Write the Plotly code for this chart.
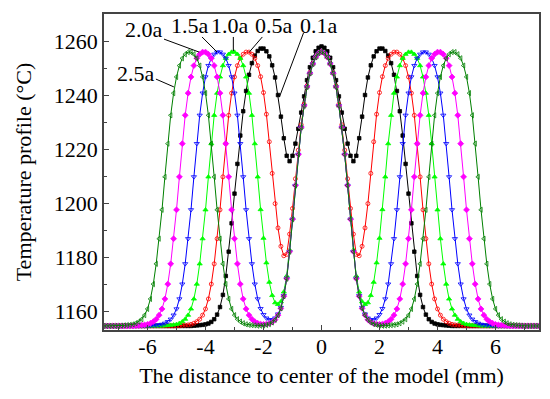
import plotly.graph_objects as go

x_mm = [
    -7.5, -7.4, -7.3, -7.2, -7.1, -7.0, -6.9, -6.8, -6.7, -6.6,
    -6.5, -6.4, -6.3, -6.2, -6.1, -6.0, -5.9, -5.8, -5.7, -5.6,
    -5.5, -5.4, -5.3, -5.2, -5.1, -5.0, -4.9, -4.8, -4.7, -4.6,
    -4.5, -4.4, -4.3, -4.2, -4.1, -4.0, -3.9, -3.8, -3.7, -3.6,
    -3.5, -3.4, -3.3, -3.2, -3.1, -3.0, -2.9, -2.8, -2.7, -2.6,
    -2.5, -2.4, -2.3, -2.2, -2.1, -2.0, -1.9, -1.8, -1.7, -1.6,
    -1.5, -1.4, -1.3, -1.2, -1.1, -1.0, -0.9, -0.8, -0.7, -0.6,
    -0.5, -0.4, -0.3, -0.2, -0.1, 0.0, 0.1, 0.2, 0.3, 0.4,
    0.5, 0.6, 0.7, 0.8, 0.9, 1.0, 1.1, 1.2, 1.3, 1.4,
    1.5, 1.6, 1.7, 1.8, 1.9, 2.0, 2.1, 2.2, 2.3, 2.4,
    2.5, 2.6, 2.7, 2.8, 2.9, 3.0, 3.1, 3.2, 3.3, 3.4,
    3.5, 3.6, 3.7, 3.8, 3.9, 4.0, 4.1, 4.2, 4.3, 4.4,
    4.5, 4.6, 4.7, 4.8, 4.9, 5.0, 5.1, 5.2, 5.3, 5.4,
    5.5, 5.6, 5.7, 5.8, 5.9, 6.0, 6.1, 6.2, 6.3, 6.4,
    6.5, 6.6, 6.7, 6.8, 6.9, 7.0, 7.1, 7.2, 7.3, 7.4,
    7.5,
]

t_01a = [
    1154.5, 1154.5, 1154.5, 1154.5, 1154.5, 1154.5, 1154.5, 1154.5, 1154.5, 1154.5,
    1154.5, 1154.5, 1154.5, 1154.5, 1154.5, 1154.5, 1154.5, 1154.5, 1154.5, 1154.5,
    1154.5, 1154.5, 1154.5, 1154.5, 1154.5, 1154.5, 1154.5, 1154.5, 1154.5, 1154.5,
    1154.5, 1154.6, 1154.7, 1154.8, 1154.9, 1155.1, 1155.4, 1156.0, 1157.0, 1158.7,
    1161.5, 1166.0, 1173.0, 1182.0, 1192.5, 1203.5, 1214.5, 1225.0, 1234.0, 1241.5,
    1247.5, 1251.8, 1254.6, 1256.3, 1257.2, 1257.2, 1256.2, 1254.3, 1251.0, 1246.5,
    1240.0, 1232.0, 1224.0, 1217.5, 1215.5, 1217.5, 1222.0, 1227.5, 1233.5, 1239.5,
    1245.5, 1250.3, 1253.8, 1256.2, 1257.5, 1258.0, 1257.5, 1256.2, 1253.8, 1250.3,
    1245.5, 1239.5, 1233.5, 1227.5, 1222.0, 1217.5, 1215.5, 1217.5, 1224.0, 1232.0,
    1240.0, 1246.5, 1251.0, 1254.3, 1256.2, 1257.2, 1257.2, 1256.3, 1254.6, 1251.8,
    1247.5, 1241.5, 1234.0, 1225.0, 1214.5, 1203.5, 1192.5, 1182.0, 1173.0, 1166.0,
    1161.5, 1158.7, 1157.0, 1156.0, 1155.4, 1155.1, 1154.9, 1154.8, 1154.7, 1154.6,
    1154.5, 1154.5, 1154.5, 1154.5, 1154.5, 1154.5, 1154.5, 1154.5, 1154.5, 1154.5,
    1154.5, 1154.5, 1154.5, 1154.5, 1154.5, 1154.5, 1154.5, 1154.5, 1154.5, 1154.5,
    1154.5, 1154.5, 1154.5, 1154.5, 1154.5, 1154.5, 1154.5, 1154.5, 1154.5, 1154.5,
    1154.5,
]

t_05a = [
    1154.5, 1154.5, 1154.5, 1154.5, 1154.5, 1154.5, 1154.5, 1154.5, 1154.5, 1154.5,
    1154.5, 1154.5, 1154.5, 1154.5, 1154.5, 1154.5, 1154.5, 1154.5, 1154.5, 1154.5,
    1154.5, 1154.5, 1154.5, 1154.5, 1154.5, 1154.5, 1154.6, 1154.7, 1154.8, 1154.9,
    1155.1, 1155.5, 1156.1, 1157.0, 1158.5, 1160.8, 1164.5, 1170.0, 1177.5, 1186.8,
    1197.5, 1209.7, 1222.0, 1232.5, 1240.7, 1246.7, 1250.9, 1253.6, 1255.1, 1255.9,
    1255.9, 1255.1, 1253.6, 1250.9, 1246.8, 1240.9, 1232.9, 1222.7, 1211.0, 1199.8,
    1190.8, 1184.0, 1180.5, 1181.0, 1188.5, 1198.0, 1209.0, 1219.6, 1229.0, 1236.6,
    1243.4, 1248.3, 1251.7, 1254.0, 1255.5, 1256.0, 1255.5, 1254.0, 1251.7, 1248.3,
    1243.4, 1236.6, 1229.0, 1219.6, 1209.0, 1198.0, 1188.5, 1181.0, 1180.5, 1184.0,
    1190.8, 1199.8, 1211.0, 1222.7, 1232.9, 1240.9, 1246.8, 1250.9, 1253.6, 1255.1,
    1255.9, 1255.9, 1255.1, 1253.6, 1250.9, 1246.7, 1240.7, 1232.5, 1222.0, 1209.7,
    1197.5, 1186.8, 1177.5, 1170.0, 1164.5, 1160.8, 1158.5, 1157.0, 1156.1, 1155.5,
    1155.1, 1154.9, 1154.8, 1154.7, 1154.6, 1154.5, 1154.5, 1154.5, 1154.5, 1154.5,
    1154.5, 1154.5, 1154.5, 1154.5, 1154.5, 1154.5, 1154.5, 1154.5, 1154.5, 1154.5,
    1154.5, 1154.5, 1154.5, 1154.5, 1154.5, 1154.5, 1154.5, 1154.5, 1154.5, 1154.5,
    1154.5,
]

t_10a = [
    1154.5, 1154.5, 1154.5, 1154.5, 1154.5, 1154.5, 1154.5, 1154.5, 1154.5, 1154.5,
    1154.5, 1154.5, 1154.5, 1154.5, 1154.5, 1154.5, 1154.5, 1154.5, 1154.5, 1154.5,
    1154.5, 1154.6, 1154.7, 1154.8, 1154.9, 1155.1, 1155.5, 1156.1, 1157.0, 1158.5,
    1160.8, 1164.5, 1170.0, 1177.5, 1186.8, 1197.5, 1209.7, 1222.0, 1232.5, 1240.7,
    1246.7, 1250.9, 1253.6, 1255.1, 1255.9, 1255.9, 1255.1, 1253.6, 1250.9, 1246.7,
    1240.7, 1232.5, 1222.0, 1209.7, 1197.6, 1187.0, 1177.9, 1170.7, 1165.8, 1163.1,
    1162.5, 1163.5, 1167.1, 1173.0, 1182.6, 1194.4, 1206.8, 1218.2, 1228.0, 1236.0,
    1243.0, 1248.0, 1251.5, 1254.0, 1255.5, 1256.0, 1255.5, 1254.0, 1251.5, 1248.0,
    1243.0, 1236.0, 1228.0, 1218.2, 1206.8, 1194.4, 1182.6, 1173.0, 1167.1, 1163.5,
    1162.5, 1163.1, 1165.8, 1170.7, 1177.9, 1187.0, 1197.6, 1209.7, 1222.0, 1232.5,
    1240.7, 1246.7, 1250.9, 1253.6, 1255.1, 1255.9, 1255.9, 1255.1, 1253.6, 1250.9,
    1246.7, 1240.7, 1232.5, 1222.0, 1209.7, 1197.5, 1186.8, 1177.5, 1170.0, 1164.5,
    1160.8, 1158.5, 1157.0, 1156.1, 1155.5, 1155.1, 1154.9, 1154.8, 1154.7, 1154.6,
    1154.5, 1154.5, 1154.5, 1154.5, 1154.5, 1154.5, 1154.5, 1154.5, 1154.5, 1154.5,
    1154.5, 1154.5, 1154.5, 1154.5, 1154.5, 1154.5, 1154.5, 1154.5, 1154.5, 1154.5,
    1154.5,
]

t_15a = [
    1154.5, 1154.5, 1154.5, 1154.5, 1154.5, 1154.5, 1154.5, 1154.5, 1154.5, 1154.5,
    1154.5, 1154.5, 1154.5, 1154.5, 1154.5, 1154.5, 1154.6, 1154.7, 1154.8, 1154.9,
    1155.1, 1155.5, 1156.1, 1157.0, 1158.5, 1160.8, 1164.5, 1170.0, 1177.5, 1186.8,
    1197.5, 1209.7, 1222.0, 1232.5, 1240.7, 1246.7, 1250.9, 1253.6, 1255.1, 1255.9,
    1255.9, 1255.1, 1253.6, 1250.9, 1246.7, 1240.7, 1232.5, 1222.0, 1209.7, 1197.5,
    1186.8, 1177.5, 1170.0, 1164.5, 1160.9, 1158.7, 1157.4, 1156.8, 1156.8, 1157.4,
    1158.9, 1161.3, 1165.7, 1172.1, 1182.0, 1194.0, 1206.5, 1218.0, 1228.0, 1236.0,
    1243.0, 1248.0, 1251.5, 1254.0, 1255.5, 1256.0, 1255.5, 1254.0, 1251.5, 1248.0,
    1243.0, 1236.0, 1228.0, 1218.0, 1206.5, 1194.0, 1182.0, 1172.1, 1165.7, 1161.3,
    1158.9, 1157.4, 1156.8, 1156.8, 1157.4, 1158.7, 1160.9, 1164.5, 1170.0, 1177.5,
    1186.8, 1197.5, 1209.7, 1222.0, 1232.5, 1240.7, 1246.7, 1250.9, 1253.6, 1255.1,
    1255.9, 1255.9, 1255.1, 1253.6, 1250.9, 1246.7, 1240.7, 1232.5, 1222.0, 1209.7,
    1197.5, 1186.8, 1177.5, 1170.0, 1164.5, 1160.8, 1158.5, 1157.0, 1156.1, 1155.5,
    1155.1, 1154.9, 1154.8, 1154.7, 1154.6, 1154.5, 1154.5, 1154.5, 1154.5, 1154.5,
    1154.5, 1154.5, 1154.5, 1154.5, 1154.5, 1154.5, 1154.5, 1154.5, 1154.5, 1154.5,
    1154.5,
]

t_20a = [
    1154.5, 1154.5, 1154.5, 1154.5, 1154.5, 1154.5, 1154.5, 1154.5, 1154.5, 1154.5,
    1154.5, 1154.6, 1154.7, 1154.8, 1154.9, 1155.1, 1155.5, 1156.1, 1157.0, 1158.5,
    1160.8, 1164.5, 1170.0, 1177.5, 1186.8, 1197.5, 1209.7, 1222.0, 1232.5, 1240.7,
    1246.7, 1250.9, 1253.6, 1255.1, 1255.9, 1255.9, 1255.1, 1253.6, 1250.9, 1246.7,
    1240.7, 1232.5, 1222.0, 1209.7, 1197.5, 1186.8, 1177.5, 1170.0, 1164.5, 1160.8,
    1158.5, 1157.0, 1156.1, 1155.5, 1155.2, 1155.1, 1155.2, 1155.4, 1155.9, 1156.8,
    1158.5, 1161.0, 1165.5, 1172.0, 1182.0, 1194.0, 1206.5, 1218.0, 1228.0, 1236.0,
    1243.0, 1248.0, 1251.5, 1254.0, 1255.5, 1256.0, 1255.5, 1254.0, 1251.5, 1248.0,
    1243.0, 1236.0, 1228.0, 1218.0, 1206.5, 1194.0, 1182.0, 1172.0, 1165.5, 1161.0,
    1158.5, 1156.8, 1155.9, 1155.4, 1155.2, 1155.1, 1155.2, 1155.5, 1156.1, 1157.0,
    1158.5, 1160.8, 1164.5, 1170.0, 1177.5, 1186.8, 1197.5, 1209.7, 1222.0, 1232.5,
    1240.7, 1246.7, 1250.9, 1253.6, 1255.1, 1255.9, 1255.9, 1255.1, 1253.6, 1250.9,
    1246.7, 1240.7, 1232.5, 1222.0, 1209.7, 1197.5, 1186.8, 1177.5, 1170.0, 1164.5,
    1160.8, 1158.5, 1157.0, 1156.1, 1155.5, 1155.1, 1154.9, 1154.8, 1154.7, 1154.6,
    1154.5, 1154.5, 1154.5, 1154.5, 1154.5, 1154.5, 1154.5, 1154.5, 1154.5, 1154.5,
    1154.5,
]

t_25a = [
    1154.5, 1154.5, 1154.5, 1154.5, 1154.5, 1154.5, 1154.6, 1154.7, 1154.8, 1154.9,
    1155.1, 1155.5, 1156.1, 1157.0, 1158.5, 1160.8, 1164.5, 1170.0, 1177.5, 1186.8,
    1197.5, 1209.7, 1222.0, 1232.5, 1240.7, 1246.7, 1250.9, 1253.6, 1255.1, 1255.9,
    1255.9, 1255.1, 1253.6, 1250.9, 1246.7, 1240.7, 1232.5, 1222.0, 1209.7, 1197.5,
    1186.8, 1177.5, 1170.0, 1164.5, 1160.8, 1158.5, 1157.0, 1156.1, 1155.5, 1155.1,
    1154.9, 1154.8, 1154.7, 1154.6, 1154.6, 1154.7, 1154.9, 1155.2, 1155.8, 1156.8,
    1158.5, 1161.0, 1165.5, 1172.0, 1182.0, 1194.0, 1206.5, 1218.0, 1228.0, 1236.0,
    1243.0, 1248.0, 1251.5, 1254.0, 1255.5, 1256.0, 1255.5, 1254.0, 1251.5, 1248.0,
    1243.0, 1236.0, 1228.0, 1218.0, 1206.5, 1194.0, 1182.0, 1172.0, 1165.5, 1161.0,
    1158.5, 1156.8, 1155.8, 1155.2, 1154.9, 1154.7, 1154.6, 1154.6, 1154.7, 1154.8,
    1154.9, 1155.1, 1155.5, 1156.1, 1157.0, 1158.5, 1160.8, 1164.5, 1170.0, 1177.5,
    1186.8, 1197.5, 1209.7, 1222.0, 1232.5, 1240.7, 1246.7, 1250.9, 1253.6, 1255.1,
    1255.9, 1255.9, 1255.1, 1253.6, 1250.9, 1246.7, 1240.7, 1232.5, 1222.0, 1209.7,
    1197.5, 1186.8, 1177.5, 1170.0, 1164.5, 1160.8, 1158.5, 1157.0, 1156.1, 1155.5,
    1155.1, 1154.9, 1154.8, 1154.7, 1154.6, 1154.5, 1154.5, 1154.5, 1154.5, 1154.5,
    1154.5,
]

series_names = ["0.1a", "0.5a", "1.0a", "1.5a", "2.0a", "2.5a"]
series_values = [t_01a, t_05a, t_10a, t_15a, t_20a, t_25a]
series_colors = ["#000000", "#FF0000", "#00FF00", "#0000FF", "#FF00FF", "#008000"]
series_symbols = ["square", "circle-open", "triangle-up", "triangle-down-open",
                  "diamond", "triangle-left-open"]
series_sizes = [3.5, 4, 4.5, 4.5, 4.5, 4.5]

x_ticks = [-6, -4, -2, 0, 2, 4, 6]
x_ticktext = ["-6", "-4", "-2", "0", "2", "4", "6"]
y_ticks = [1160, 1180, 1200, 1220, 1240, 1260]

# label text, text position, leader line start/end (data units)
labels = [
    ("2.5a", -6.38, 1248.1, -5.71, 1245.9, -5.09, 1243.0),
    ("2.0a", -6.12, 1264.2, -5.43, 1260.7, -4.22, 1255.9),
    ("1.5a", -4.53, 1265.9, -4.12, 1261.5, -3.60, 1255.9),
    ("1.0a", -3.15, 1265.9, -3.04, 1261.5, -3.04, 1256.3),
    ("0.5a", -1.63, 1265.9, -2.04, 1261.5, -2.49, 1255.9),
    ("0.1a", -0.10, 1265.9, -0.62, 1263.0, -1.45, 1239.3),
]

FONT = "Liberation Serif, Times New Roman, serif"
FS = 22

fig = go.Figure()
for name, vals, col, sym, sz in zip(series_names, series_values, series_colors,
                                    series_symbols, series_sizes):
    fig.add_trace(go.Scatter(
        x=x_mm, y=vals, name=name, mode="lines+markers",
        line=dict(color=col, width=1),
        marker=dict(symbol=sym, size=sz, color=col, line=dict(color=col, width=0.8)),
        showlegend=False,
    ))

for text, tx, ty, x0, y0, x1, y1 in labels:
    fig.add_annotation(x=tx, y=ty, text=text, showarrow=False,
                       font=dict(family=FONT, size=FS, color="#000"))
    fig.add_shape(type="line", x0=x0, y0=y0, x1=x1, y1=y1,
                  line=dict(color="#000", width=1))

axis_common = dict(
    showgrid=False, zeroline=False, showline=True, linecolor="#444", linewidth=1.5,
    mirror=True, ticks="inside", ticklen=5, tickwidth=1, tickcolor="#444",
    tickfont=dict(family=FONT, size=FS, color="#000"), automargin=False,
)

fig.update_layout(
    width=550, height=399,
    margin=dict(l=96, r=19, t=6, b=77),
    paper_bgcolor="white", plot_bgcolor="white",
    xaxis=dict(range=[-7.5, 7.5], tickvals=x_ticks, ticktext=x_ticktext,
               ticklabelstandoff=-4,
               minor=dict(ticks="inside", ticklen=3, dtick=1, tick0=-7, tickcolor="#444"),
               title=dict(text="The distance to center of the model (mm)",
                          font=dict(family=FONT, size=FS, color="#000"), standoff=9),
               **axis_common),
    yaxis=dict(range=[1153, 1270], tickvals=y_ticks,
               minor=dict(ticks="inside", ticklen=3, dtick=10, tick0=1150, tickcolor="#444"),
               title=dict(text="Temperature profile (°C)",
                          font=dict(family=FONT, size=FS, color="#000"), standoff=16),
               **axis_common),
)

fig.write_html("out.html")
